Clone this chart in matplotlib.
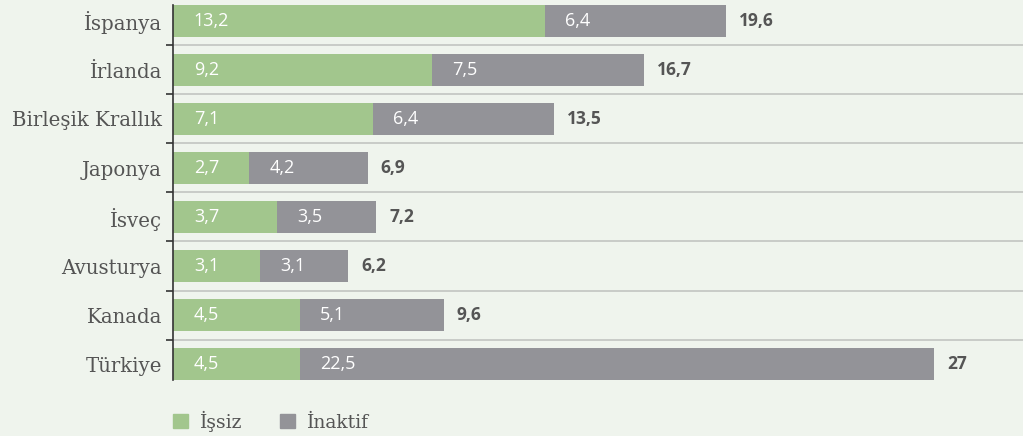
import matplotlib.pyplot as plt
from matplotlib.patches import Patch

countries = ["İspanya", "İrlanda", "Birleşik Krallık", "Japonya", "İsveç", "Avusturya", "Kanada", "Türkiye"]
issiz = [13.2, 9.2, 7.1, 2.7, 3.7, 3.1, 4.5, 4.5]
inaktif = [6.4, 7.5, 6.4, 4.2, 3.5, 3.1, 5.1, 22.5]
toplam = [19.6, 16.7, 13.5, 6.9, 7.2, 6.2, 9.6, 27]

bg = "#eff4ed"
green = "#a2c68d"
gray = "#939398"
text_col = "#555555"

def fmt(v):
    s = ("%.1f" % v).replace(".", ",")
    return s[:-2] if s.endswith(",0") else s

fig = plt.figure(figsize=(10.23, 4.36), dpi=100, facecolor=bg)
ax = fig.add_axes([173 / 1023, 47.5 / 436, 850 / 1023, 392 / 436], facecolor=bg)

y = list(range(len(countries)))
h = 0.633
ax.barh(y, issiz, height=h, color=green, zorder=3)
ax.barh(y, inaktif, left=issiz, height=h, color=gray, zorder=3)

for i in y:
    ax.annotate(fmt(issiz[i]), (0, i), xytext=(15, 0), textcoords="offset points",
                va="center", ha="left", color="white", fontsize=13, family="Open Sans", zorder=4)
    ax.annotate(fmt(inaktif[i]), (issiz[i], i), xytext=(14.5, 0), textcoords="offset points",
                va="center", ha="left", color="white", fontsize=13, family="Open Sans", zorder=4)
    ax.annotate(fmt(toplam[i]), (issiz[i] + inaktif[i], i), xytext=(9.5, 0), textcoords="offset points",
                va="center", ha="left", color=text_col, fontsize=12.5, fontweight="bold",
                family="Open Sans", zorder=4)

ax.set_xlim(0, 30.15)
ax.set_ylim(len(countries) - 0.5, -0.5)
ax.set_xticks([])
ax.set_yticks(y)
ax.set_yticklabels(countries, family="DejaVu Serif", fontsize=14.2, color=text_col)
ax.tick_params(axis="y", which="major", length=0, pad=8)
ax.set_yticks([i + 0.5 for i in y[:-1]], minor=True)
ax.tick_params(axis="y", which="minor", length=5, width=1.2, color="#333333", direction="out")
ax.grid(axis="y", which="minor", color="#c2c4c1", linewidth=1.2, zorder=1)

for s in ["top", "right", "bottom"]:
    ax.spines[s].set_visible(False)
ax.spines["left"].set_color("#333333")
ax.spines["left"].set_linewidth(1.2)
ax.spines["left"].set_bounds(-h / 2, len(countries) - 1 + h / 2)
ax.spines["left"].set_zorder(5)

handles = [Patch(color=green, label="İşsiz"), Patch(color=gray, label="İnaktif")]
leg = fig.legend(handles=handles, loc="center left", bbox_to_anchor=(173 / 1023, 1 - 421 / 436),
                 ncol=2, frameon=False, handlelength=0.8, handleheight=0.8, handletextpad=0.64,
                 columnspacing=2.0, borderpad=0, borderaxespad=0,
                 prop={"family": "DejaVu Serif", "size": 13.5})
for t in leg.get_texts():
    t.set_color(text_col)

plt.savefig("out.png", dpi=100, facecolor=bg)
